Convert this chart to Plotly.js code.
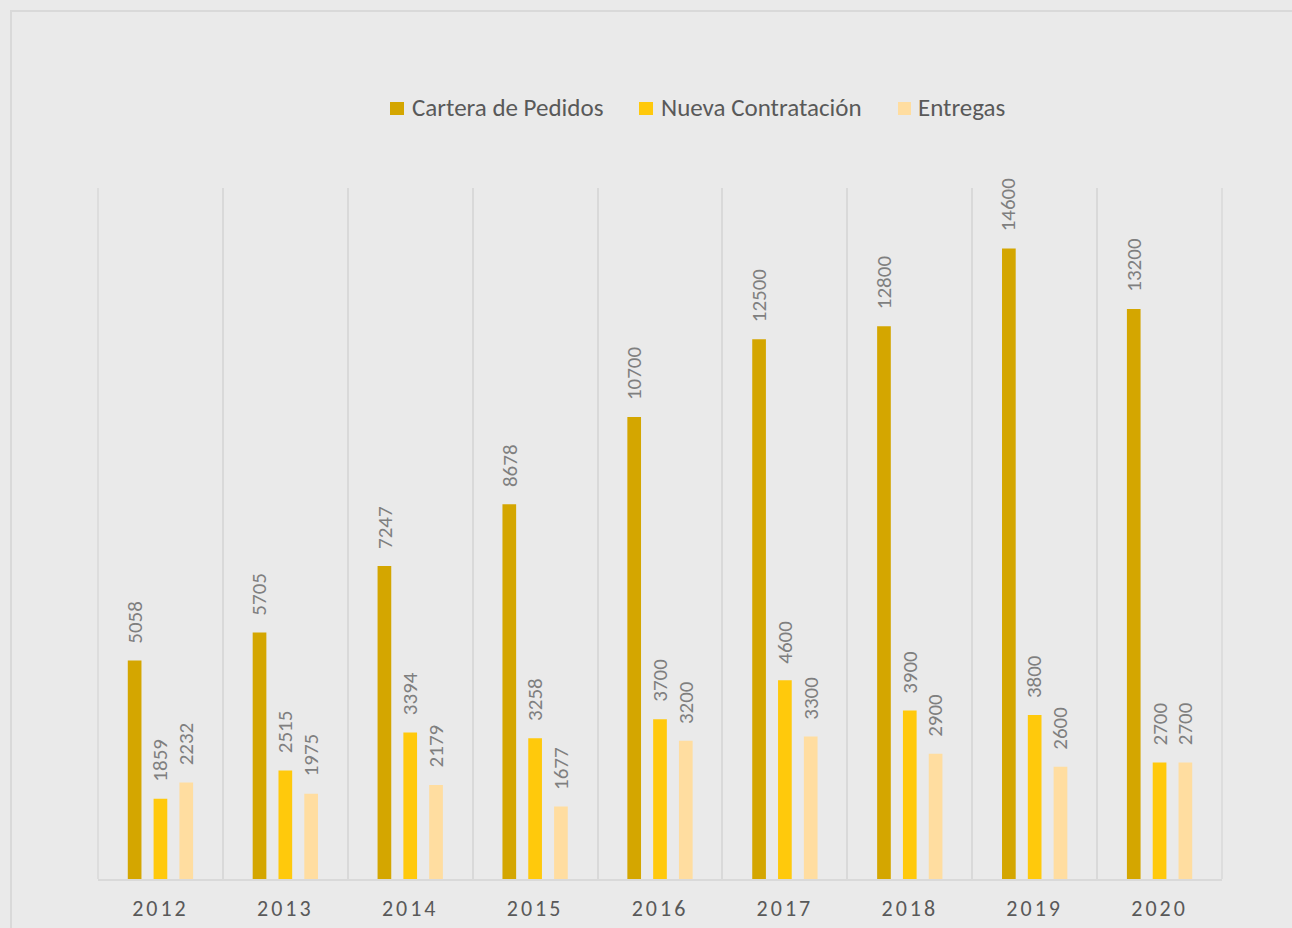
<!DOCTYPE html>
<html>
<head>
<meta charset="utf-8">
<script src="https://cdn.plot.ly/plotly-3.0.1.min.js"></script>
<style>
  html, body { margin: 0; padding: 0; background: #eaeaea; }
  .xtick text { letter-spacing: 3px; }
</style>
</head>
<body>
<div id="chart" style="width:1292px;height:928px;"></div>
<script>
const years = ['2012', '2013', '2014', '2015', '2016', '2017', '2018', '2019', '2020'];
const cartera = [5058, 5705, 7247, 8678, 10700, 12500, 12800, 14600, 13200];
const nueva = [1859, 2515, 3394, 3258, 3700, 4600, 3900, 3800, 2700];
const entregas = [2232, 1975, 2179, 1677, 3200, 3300, 2900, 2600, 2700];
const seriesNames = ['Cartera de Pedidos', 'Nueva Contratación', 'Entregas'];
const seriesColors = ['#D4A600', '#FFC90C', '#FFDDA0'];

const FONT = 'Carlito, "Noto Sans", "Open Sans", sans-serif';
const seriesValues = [cartera, nueva, entregas];

// plot area in pixels (for converting layout positions to paper coords)
const PL = 98, PR = 1222, PT = 188, PB = 879;
const px2x = p => (p - PL) / (PR - PL);
const px2y = p => (PB - p) / (PB - PT);

const traces = seriesValues.map((vals, k) => ({
  type: 'bar',
  name: seriesNames[k],
  x: years,
  y: vals,
  marker: { color: seriesColors[k], line: { width: 0 } },
  hoverinfo: 'x+y+name',
  showlegend: false
}));

const annotations = [];
seriesValues.forEach((vals, k) => {
  vals.forEach((v, i) => {
    annotations.push({
      x: i, y: v, xref: 'x', yref: 'y',
      text: String(v), showarrow: false,
      textangle: -90, xanchor: 'center', yanchor: 'bottom',
      xshift: (k - 1) * 25.8, yshift: 15,
      font: { family: FONT, size: 21, color: '#7f7f7f' }
    });
  });
});

// custom legend (layout positions)
const legendSquares = [[390, 404], [639, 653], [898, 911]];
const legendTextX = [410, 659, 916];
const shapes = [{
  type: 'rect', xref: 'paper', yref: 'paper',
  x0: px2x(11), x1: px2x(1300), y0: px2y(940), y1: px2y(11),
  line: { color: '#d9d9d9', width: 2 }, fillcolor: 'rgba(0,0,0,0)', layer: 'below'
}];
// edge gridlines at the outer category boundaries
[0, 1].forEach(xp => {
  shapes.push({
    type: 'line', xref: 'paper', yref: 'paper',
    x0: xp, x1: xp, y0: 0, y1: 1,
    line: { color: '#d9d9d9', width: 1.5 }, layer: 'below'
  });
});
seriesNames.forEach((name, k) => {
  shapes.push({
    type: 'rect', xref: 'paper', yref: 'paper',
    x0: px2x(legendSquares[k][0]), x1: px2x(legendSquares[k][1]),
    y0: px2y(115), y1: px2y(102),
    line: { width: 0 }, fillcolor: seriesColors[k]
  });
  annotations.push({
    xref: 'paper', yref: 'paper',
    x: px2x(legendTextX[k]), y: px2y(107.5),
    xanchor: 'left', yanchor: 'middle',
    text: name, showarrow: false,
    font: { family: FONT, size: 25, color: '#595959' }
  });
});

const layout = {
  width: 1292, height: 928,
  margin: { l: PL, r: 1292 - PR, t: PT, b: 928 - PB },
  paper_bgcolor: '#eaeaea',
  plot_bgcolor: '#eaeaea',
  barmode: 'group',
  bargap: 0.38,
  bargroupgap: 0.47,
  showlegend: false,
  xaxis: {
    type: 'category', range: [-0.5, 8.5],
    showgrid: true, tickson: 'boundaries',
    gridcolor: '#d9d9d9', gridwidth: 1.5,
    showline: true, linecolor: '#d9d9d9', linewidth: 2,
    ticks: '', ticklabelstandoff: 9,
    tickfont: { family: FONT, size: 22, color: '#595959' },
    zeroline: false, fixedrange: true
  },
  yaxis: {
    range: [0, 16000],
    showgrid: false, zeroline: false, showline: false,
    showticklabels: false, ticks: '', fixedrange: true
  },
  annotations: annotations,
  shapes: shapes,
  hovermode: 'closest'
};

Plotly.newPlot('chart', traces, layout, { displayModeBar: false });
</script>
</body>
</html>
